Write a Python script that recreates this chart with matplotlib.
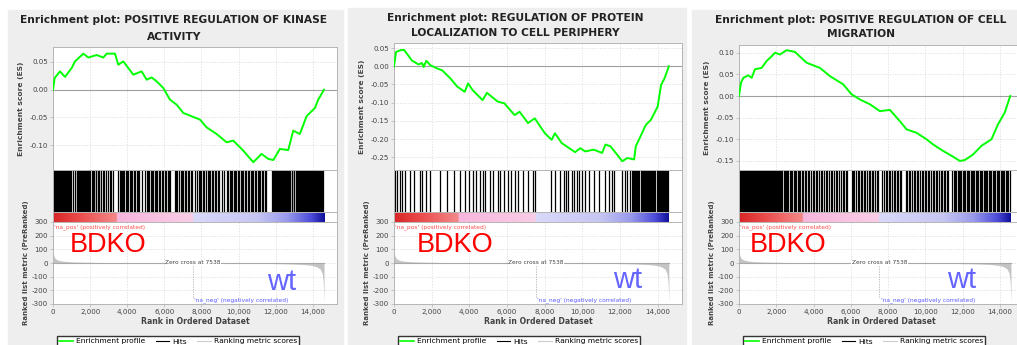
import numpy as np
import matplotlib.pyplot as plt
from matplotlib.colors import LinearSegmentedColormap
from matplotlib.patches import Rectangle
from matplotlib.lines import Line2D

plt.rcParams['font.family'] = 'DejaVu Sans'
plt.rcParams['axes.unicode_minus'] = False

# ---- shared ranked list ----
N_GENES = 14600
ZERO_CROSS = 7538
metric_rank = [0, 20, 60, 120, 250, 450, 800, 1300, 2000, 3000, 4500, 6000, 7538,
               9000, 10500, 11800, 12800, 13500, 13900, 14200, 14400, 14500, 14560, 14600]
metric_val = [95, 70, 48, 33, 22, 15, 10, 7, 5, 3, 2, 1, 0,
              -1, -2, -4, -7, -11, -17, -27, -45, -75, -140, -285]

# colour bar along the ranked list (rank, colour)
bar_stops = [(0, '#d92626'), (1500, '#ec4f4f'), (3400, '#f38a8a'), (3401, '#f7b6dc'),
             (7538, '#f9cde6'), (7539, '#d9d9fa'), (11000, '#c6c6f3'), (12600, '#9a9aec'),
             (13900, '#4c4cd8'), (14600, '#12129a')]

# ---- gene set 1: positive regulation of kinase activity ----
kinase_title = ['Enrichment plot: POSITIVE REGULATION OF KINASE', 'ACTIVITY']
kinase_es_rank = [0, 90, 377, 646, 1005, 1185, 1633, 1902, 2350, 2710, 2890, 3340, 3518, 3787,
                  4327, 4775, 5045, 5315, 5584, 5943, 6300, 6660, 7018, 7466, 7916, 8275, 8812,
                  9354, 9711, 10250, 10790, 11237, 11600, 11870, 12224, 12673, 12942, 13300,
                  13660, 14110, 14290, 14600]
kinase_es = [0.0, 0.021, 0.033, 0.023, 0.039, 0.051, 0.065, 0.058, 0.0625, 0.058, 0.065, 0.065,
             0.045, 0.051, 0.027, 0.033, 0.018, 0.022, 0.015, 0.003, -0.018, -0.027, -0.042,
             -0.048, -0.054, -0.068, -0.080, -0.095, -0.092, -0.110, -0.131, -0.116, -0.125,
             -0.127, -0.107, -0.109, -0.074, -0.080, -0.048, -0.033, -0.018, 0.0]
kinase_hits = [15, 48, 90, 135, 170, 222, 260, 301, 355, 398, 430, 487, 530, 566, 612, 670, 705,
               748, 801, 846, 880, 935, 968, 1080, 1190, 1275, 1310, 1362, 1420, 1455, 1510, 1580,
               1622, 1670, 1735, 1790, 1842, 1905, 1950, 2010, 2075, 2130, 2168, 2230, 2290, 2335,
               2400, 2460, 2505, 2590, 2700, 2760, 2880, 2950, 3060, 3150, 3210, 3520, 3585, 3640,
               3720, 3770, 3850, 3930, 3990, 4060, 4140, 4215, 4280, 4350, 4440, 4510, 4590, 4640,
               4800, 4950, 5050, 5110, 5190, 5260, 5340, 5400, 5480, 5560, 5620, 5710, 5790, 5850,
               5930, 6010, 6080, 6170, 6240, 6330, 6560, 6640, 6700, 6790, 6880, 6950, 7030, 7120,
               7190, 7280, 7350, 7440, 7510, 7640, 7760, 7850, 7930, 8000, 8090, 8160, 8240, 8330,
               8400, 8480, 8560, 8630, 8720, 8800, 8870, 8950, 9080, 9220, 9360, 9420, 9510, 9580,
               9650, 9740, 9800, 9880, 9960, 10030, 10110, 10190, 10250, 10330, 10420, 10490,
               10560, 10640, 10720, 10790, 10870, 10950, 11020, 11100, 11170, 11250, 11330, 11410,
               11480, 11790, 11840, 11900, 11950, 12010, 12060, 12120, 12170, 12230, 12290, 12340,
               12400, 12450, 12510, 12570, 12620, 12680, 12730, 12790, 12850, 12900, 12960, 13010,
               13070, 13120, 13180, 13240, 13290, 13350, 13400, 13460, 13510, 13570, 13630, 13680,
               13740, 13790, 13850, 13900, 13960, 14010, 14070, 14130, 14180, 14240, 14290, 14350,
               14400, 14460, 14510, 14570]

# ---- gene set 2: regulation of protein localization to cell periphery ----
periphery_title = ['Enrichment plot: REGULATION OF PROTEIN', 'LOCALIZATION TO CELL PERIPHERY']
periphery_es_rank = [0, 107, 322, 537, 680, 948, 1306, 1485, 1574, 1717, 1932, 2290, 2558, 3005,
                     3363, 3757, 3936, 4168, 4705, 4937, 5510, 5868, 6404, 6673, 7120, 7478, 8014,
                     8372, 8551, 8909, 9624, 9893, 10161, 10608, 11055, 11234, 11503, 12129, 12397,
                     12755, 12845, 13381, 13649, 14006, 14185, 14365, 14600]
periphery_es = [0.0, 0.039, 0.044, 0.045, 0.035, 0.016, 0.005, 0.009, -0.002, 0.015, 0.003,
                -0.006, -0.011, -0.034, -0.056, -0.070, -0.047, -0.065, -0.093, -0.073, -0.097,
                -0.102, -0.134, -0.125, -0.156, -0.143, -0.184, -0.202, -0.184, -0.211, -0.236,
                -0.225, -0.234, -0.229, -0.238, -0.215, -0.220, -0.261, -0.252, -0.256, -0.220,
                -0.161, -0.147, -0.111, -0.052, -0.034, 0.0]
periphery_hits = [54, 143, 322, 411, 590, 859, 1073, 1360, 1485, 1700, 1896, 2469, 2791, 3184,
                  3506, 3757, 3989, 4222, 4347, 4580, 4705, 4830, 5081, 5259, 5510, 5617, 5868,
                  6047, 6226, 6404, 6583, 6852, 7120, 7388, 7478, 8336, 8551, 8819, 9052, 9123,
                  9267, 9445, 9589, 9732, 9839, 9982, 10161, 10340, 10608, 10877, 11234, 11413,
                  11592, 11682, 12129, 12250, 12400, 12520, 12640, 12700, 12760, 12810, 12870,
                  12930, 12980, 13040, 13100, 13150, 13210, 13270, 13320, 13380, 13440, 13490,
                  13550, 13610, 13660, 13720, 13780, 13830, 13890, 13950, 14000, 14060, 14120,
                  14170, 14230, 14290, 14340, 14400, 14460, 14520, 14570]

# ---- gene set 3: positive regulation of cell migration ----
migration_title = ['Enrichment plot: POSITIVE REGULATION OF CELL', 'MIGRATION']
migration_es_rank = [0, 107, 232, 501, 680, 858, 1216, 1484, 1752, 1931, 2199, 2557, 3004, 3630,
                     4345, 4881, 5596, 6043, 6490, 7027, 7563, 8099, 8636, 8993, 9530, 10066,
                     10424, 10960, 11407, 11854, 12123, 12570, 13017, 13553, 13910, 14268, 14560]
migration_es = [0.0, 0.031, 0.042, 0.048, 0.042, 0.062, 0.065, 0.081, 0.092, 0.100, 0.096, 0.106,
                0.102, 0.077, 0.065, 0.046, 0.027, 0.004, -0.008, -0.019, -0.035, -0.032, -0.058,
                -0.077, -0.085, -0.100, -0.112, -0.127, -0.138, -0.150, -0.148, -0.135, -0.115,
                -0.100, -0.065, -0.038, 0.0]
migration_hits = [10, 55, 100, 150, 190, 245, 290, 330, 385, 430, 470, 525, 570, 610, 660, 720,
                  760, 805, 850, 905, 950, 990, 1040, 1100, 1140, 1185, 1240, 1290, 1330, 1390,
                  1440, 1480, 1530, 1590, 1630, 1680, 1730, 1790, 1830, 1880, 1940, 1990, 2030,
                  2090, 2150, 2200, 2260, 2330, 2390, 2450, 2520, 2580, 2650, 2720, 2790, 2850,
                  2930, 3000, 3080, 3150, 3230, 3300, 3380, 3460, 3540, 3620, 3700, 3780, 3870,
                  3950, 4040, 4120, 4210, 4300, 4380, 4470, 4560, 4650, 4740, 4830, 4920, 5010,
                  5100, 5190, 5280, 5370, 5460, 5560, 5650, 5740, 5820, 6040, 6120, 6200, 6290,
                  6370, 6450, 6540, 6620, 6710, 6790, 6880, 6960, 7050, 7130, 7220, 7300, 7390,
                  7470, 7700, 7790, 7870, 7960, 8040, 8130, 8210, 8300, 8380, 8470, 8550, 8640,
                  8720, 8950, 9030, 9120, 9200, 9290, 9370, 9460, 9540, 9630, 9710, 9800, 9880,
                  9970, 10050, 10140, 10220, 10310, 10390, 10480, 10560, 10650, 10730, 10820,
                  10900, 10990, 11070, 11160, 11240, 11450, 11520, 11590, 11660, 11730, 11800,
                  11870, 11940, 12010, 12080, 12150, 12220, 12290, 12360, 12430, 12500, 12570,
                  12640, 12710, 12780, 12850, 12920, 12990, 13060, 13130, 13200, 13270, 13340,
                  13410, 13480, 13550, 13620, 13690, 13760, 13830, 13900, 13970, 14040, 14110,
                  14180, 14250, 14320, 14390, 14460, 14530]

# panel layout in pixels: background span, axes span, ES top, title centre/rows,
# ES y-range/ticks, BDKO / wt anchors (rank, metric)
panels = [
    dict(title=kinase_title, es_rank=kinase_es_rank, es=kinase_es, hits=kinase_hits,
         bg=(8, 343, 10), ax=(53, 337), es_top=47, tx=174, ty=(20, 37),
         ylim=(-0.145, 0.077), yticks=[-0.10, -0.05, 0.00, 0.05],
         bdko=(900, 132), wt=(11530, -139), leg=57),
    dict(title=periphery_title, es_rank=periphery_es_rank, es=periphery_es, hits=periphery_hits,
         bg=(348, 686, 8), ax=(394, 682), es_top=43, tx=515, ty=(18, 33),
         ylim=(-0.285, 0.064), yticks=[-0.25, -0.20, -0.15, -0.10, -0.05, 0.00, 0.05],
         bdko=(1220, 132), wt=(11650, -124), leg=398),
    dict(title=migration_title, es_rank=migration_es_rank, es=migration_es, hits=migration_hits,
         bg=(692, 1030, 10), ax=(739, 1024), es_top=45, tx=861, ty=(20, 34),
         ylim=(-0.171, 0.118), yticks=[-0.15, -0.10, -0.05, 0.00, 0.05, 0.10],
         bdko=(590, 132), wt=(11150, -124), leg=743),
]

W, H = 1017, 345
XMAX = 15300
GRID = dict(color='#d9d9d9', lw=0.5, ls=(0, (2, 2)))
SPINE = '#b5b5b5'
TXT = '#444444'

fig = plt.figure(figsize=(W / 100, H / 100), dpi=100)
fig.patch.set_facecolor('white')


def box(x0, y0, x1, y1):
    return [x0 / W, 1 - y1 / H, (x1 - x0) / W, (y1 - y0) / H]


def style(ax):
    for s in ax.spines.values():
        s.set_color(SPINE)
        s.set_linewidth(0.7)
    ax.tick_params(colors=SPINE, labelcolor=TXT, labelsize=5.1, length=2, width=0.5, pad=1.5)
    ax.set_xlim(0, XMAX)


cmap = LinearSegmentedColormap.from_list(
    'ranked', [(r / N_GENES, c) for r, c in bar_stops])

for p in panels:
    x0, x1 = p['ax']
    wpx = x1 - x0
    fig.patches.append(Rectangle((p['bg'][0] / W, 0), (p['bg'][1] - p['bg'][0]) / W,
                                 1 - p['bg'][2] / H, transform=fig.transFigure,
                                 color='#eeeeee', zorder=-5))
    for line, y in zip(p['title'], p['ty']):
        fig.text(p['tx'] / W, 1 - y / H, line, ha='center', va='center',
                 fontsize=7.7, fontweight='bold', color='#222222')

    # running enrichment score
    ax = fig.add_axes(box(x0, p['es_top'], x1, 170))
    style(ax)
    ax.plot(p['es_rank'], p['es'], color='#00ff00', lw=1.4, zorder=3)
    ax.axhline(0, color='#a0a0a0', lw=0.8, zorder=2)
    ax.set_ylim(*p['ylim'])
    ax.set_yticks(p['yticks'])
    ax.yaxis.set_major_formatter('{x:.2f}')
    ax.set_xticks(range(0, 16000, 2000))
    ax.tick_params(axis='x', length=0, labelbottom=False)
    ax.grid(True, **GRID)
    ax.set_ylabel('Enrichment score (ES)', fontsize=5.4, fontweight='bold', color=TXT, va='center')
    ax.yaxis.set_label_coords(-32 / wpx, 0.5)

    # gene set hits
    axh = fig.add_axes(box(x0, 170, x1, 212))
    style(axh)
    axh.vlines(p['hits'], 0, 1, color='black', lw=0.9)
    axh.set_ylim(0, 1)
    axh.set_xticks([])
    axh.set_yticks([])

    # ranked list colour bar
    axb = fig.add_axes(box(x0, 212, x1, 222))
    style(axb)
    axb.imshow(np.linspace(0, 1, 600)[None, :], extent=[0, N_GENES, 0, 1], aspect='auto',
               cmap=cmap, interpolation='bilinear')
    axb.set_xlim(0, XMAX)
    axb.set_ylim(0, 1)
    axb.set_xticks([])
    axb.set_yticks([])

    # ranked list metric
    axm = fig.add_axes(box(x0, 222, x1, 304))
    style(axm)
    axm.fill_between(metric_rank, metric_val, 0, color='#c4c4c4', lw=0, zorder=2)
    axm.plot([0, N_GENES], [0, 0], color='#a8a8a8', lw=0.8, zorder=3)
    axm.plot([ZERO_CROSS, ZERO_CROSS], [-20, -255], color='#b0b0b0', lw=0.6, ls=(0, (1.5, 1.5)))
    axm.text(ZERO_CROSS, 0, 'Zero cross at 7538', ha='center', va='center', fontsize=4.2,
             color=TXT, zorder=4, bbox=dict(fc='white', ec='none', pad=0.3))
    axm.text(40, 262, "'na_pos' (positively correlated)", fontsize=4.2, color='#ff4d4d',
             va='center', ha='left')
    axm.text(ZERO_CROSS + 80, -272, "'na_neg' (negatively correlated)", fontsize=4.2,
             color='#5a5aff', va='center', ha='left')
    axm.text(*p['bdko'], 'BDKO', fontsize=19.5, color='#ff0000', family='Liberation Sans',
             va='center', ha='left', zorder=5)
    axm.text(*p['wt'], 'wt', fontsize=21, color='#6464ff', family='Liberation Sans',
             va='center', ha='left', zorder=5)
    axm.set_ylim(-300, 300)
    axm.set_yticks(range(-300, 301, 100))
    axm.set_xticks(range(0, 15000, 2000))
    axm.xaxis.set_major_formatter('{x:,.0f}')
    axm.grid(True, **GRID)
    axm.set_ylabel('Ranked list metric (PreRanked)', fontsize=5.0, fontweight='bold',
                   color=TXT, va='center')
    axm.yaxis.set_label_coords(-27 / wpx, 0.5)
    axm.set_xlabel('Rank in Ordered Dataset', fontsize=5.6, fontweight='bold', color=TXT,
                   va='center')
    axm.xaxis.set_label_coords(0.5, -(322 - 304) / 82)

    handles = [Line2D([], [], color='#00ff00', lw=1.2),
               Line2D([], [], color='black', lw=0.8),
               Line2D([], [], color='#cccccc', lw=0.8)]
    fig.legend(handles, ['Enrichment profile', 'Hits', 'Ranking metric scores'],
               loc='upper left', bbox_to_anchor=(p['leg'] / W, 1 - 336 / H), ncol=3,
               fontsize=5.4, frameon=True, fancybox=False, edgecolor='#333333',
               framealpha=1, borderpad=0.3, handlelength=1.8, handletextpad=0.4,
               columnspacing=1.4, borderaxespad=0)

fig.savefig('out.png', dpi=100, facecolor='white')
